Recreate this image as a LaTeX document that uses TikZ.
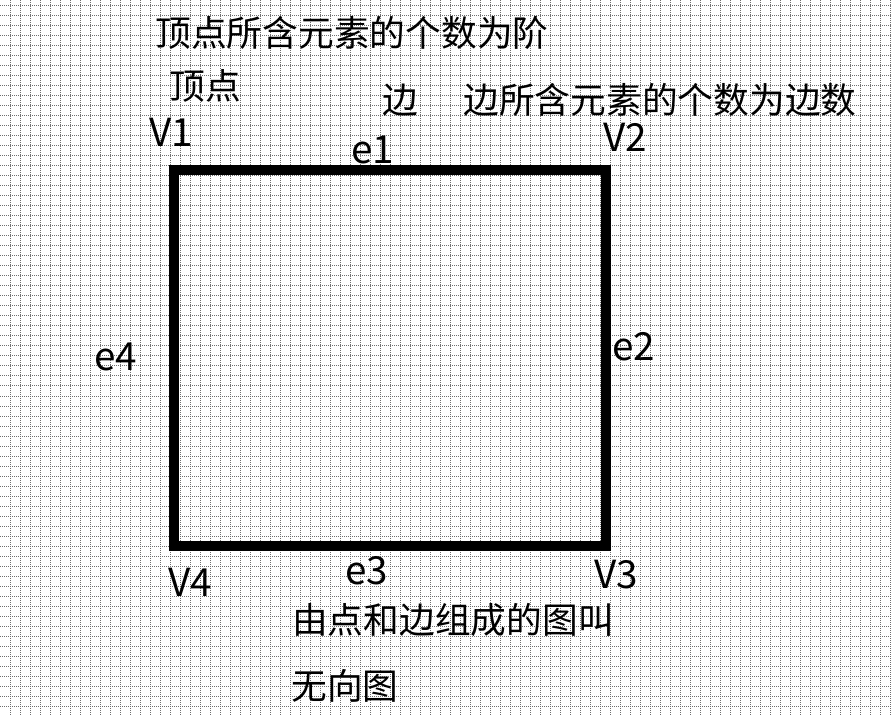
\documentclass[tikz,border=0pt]{standalone}
\usepackage{fontspec}
\setmainfont{Noto Sans CJK SC}
\usepackage{tikz}
\definecolor{gridGrey}{HTML}{6E6E6E}

\begin{document}
\begin{tikzpicture}[x=0.75pt,y=-0.75pt,
  g/.style={gridGrey,line width=0.75pt,dash pattern=on 0.75pt off 0.75pt},
  cn/.style={inner sep=0pt,font=\fontsize{26.8pt}{30pt}\selectfont},
  lt/.style={inner sep=0pt,font=\fontsize{29pt}{32pt}\selectfont},
  e/.style={line width=7.2pt}]
\useasboundingbox (0,0) rectangle (892,716);
\fill[white] (0,0) rectangle (892,716);
% dotted grid
\foreach \gx in {10,20,...,890} \draw[g] (\gx,0) -- (\gx,716);
\foreach \gy in {6,16,...,716} \draw[g] (0,\gy) -- (892,\gy);
% vertices
\coordinate (v1) at (174,170);
\coordinate (v2) at (606,170);
\coordinate (v3) at (606,546);
\coordinate (v4) at (174,546);
\draw[e] (v1) -- (v2) -- (v3) -- (v4) -- cycle;
% labels
\node[lt] (lv1) at (171,132) {V1};
\node[lt] (lv2) at (625,137) {V2};
\node[lt] (lv3) at (616,575) {V3};
\node[lt] (lv4) at (190,582) {V4};
\node[lt] (le1) at (373,150) {e1};
\node[lt] (le2) at (634,347) {e2};
\node[lt] (le3) at (367,571) {e3};
\node[lt] (le4) at (116,357) {e4};
\node[cn] (jie) at (352,33) {顶点所含元素的个数为阶};
\node[cn] (dd) at (205,86) {顶点};
\node[cn] (bian) at (400,100) {边};
\node[cn] (bs) at (660,100) {边所含元素的个数为边数};
\node[cn] (tu) at (453,620) {由点和边组成的图叫};
\node[cn] (wx) at (345,686) {无向图};
\end{tikzpicture}
\end{document}
